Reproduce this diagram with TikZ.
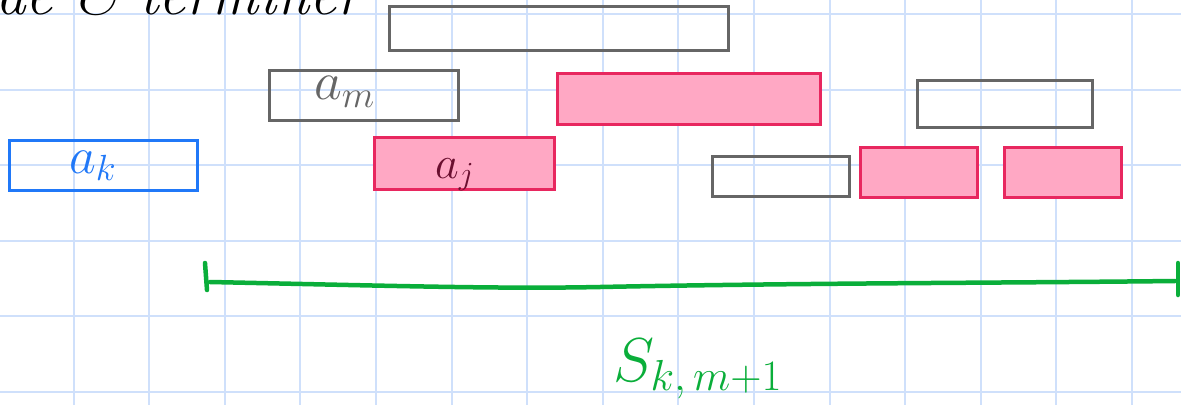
\RequirePackage{fix-cm}
\documentclass[tikz,border=0pt]{standalone}
\usepackage{fontspec}
\definecolor{gridc}{HTML}{CFE0FB}
\definecolor{greyc}{HTML}{666666}
\definecolor{pinkline}{HTML}{E8275F}
\definecolor{pinkfill}{HTML}{FFA8C4}
\definecolor{bluec}{HTML}{2078F8}
\definecolor{greenc}{HTML}{0AAE3A}
\definecolor{maroonc}{HTML}{6A0F2F}
\begin{document}
\begin{tikzpicture}[x=1pt,y=-1pt,
  gridline/.style={draw=gridc,line width=2pt},
  gbox/.style={draw=greyc,line width=3pt,rectangle,inner sep=0pt,outer sep=0pt},
  pbox/.style={draw=pinkline,fill=pinkfill,line width=3pt,rectangle,inner sep=0pt,outer sep=0pt},
  bbox/.style={draw=bluec,line width=3pt,rectangle,inner sep=0pt,outer sep=0pt},
  lbl/.style={inner sep=0pt,anchor=base west},
  segline/.style={draw=greenc,line width=4.5pt,line cap=round}]
\useasboundingbox (0,0) rectangle (1181,405);
\clip (0,0) rectangle (1181,405);
\fill[white] (0,0) rectangle (1181,405);
\foreach \i in {0,...,14} \draw[gridline] ({73.5+75.6*\i},0) -- ({73.5+75.6*\i},405);
\foreach \j in {0,...,5} \draw[gridline] (0,{14+75.6*\j}) -- (1181,{14+75.6*\j});
% top text (cut off by the top edge, as in the reference)
\node[lbl] (title) at (-5,14) {\fontsize{60}{60}\selectfont\itshape de \& terminer};
% boxes
\node[gbox,minimum width=339pt,minimum height=44pt] (top) at (558.5,28.5) {};
\node[gbox,minimum width=189pt,minimum height=50pt] (am) at (363.5,95) {};
\node[bbox,minimum width=188pt,minimum height=50pt] (ak) at (103,165) {};
\node[pbox,minimum width=180pt,minimum height=52pt] (aj) at (464,163) {};
\node[pbox,minimum width=263pt,minimum height=51pt] (big) at (688.5,98.5) {};
\node[gbox,minimum width=175pt,minimum height=47pt] (gr) at (1004.5,103.5) {};
\node[gbox,minimum width=137pt,minimum height=40pt] (gm) at (780.5,176) {};
\node[pbox,minimum width=117pt,minimum height=50pt] (p1) at (918.5,172) {};
\node[pbox,minimum width=117pt,minimum height=50pt] (p2) at (1062.5,172) {};
% labels
\node[lbl,text=greyc] (lam) at (314,99) {\fontsize{54}{54}\selectfont$a_{m}$};
\node[lbl,text=bluec] (lak) at (69,173) {\fontsize{52}{52}\selectfont$a_{k}$};
\node[lbl,text=maroonc] (laj) at (435,178) {\fontsize{46}{46}\selectfont$a_{j}$};
% green segment
\coordinate (L) at (210,282);
\coordinate (R) at (1175,281);
\draw[segline] (205,263) -- (207,290);
\draw[segline] (1178,263) -- (1178,295);
\draw[segline] (L) .. controls (400,286) and (500,289) .. (600,287)
  .. controls (800,283) and (1000,283) .. (R);
\node[lbl,text=greenc] (S) at (613,381) {\fontsize{62}{62}\selectfont$S_{k,\,m+1}$};
\end{tikzpicture}
\end{document}
